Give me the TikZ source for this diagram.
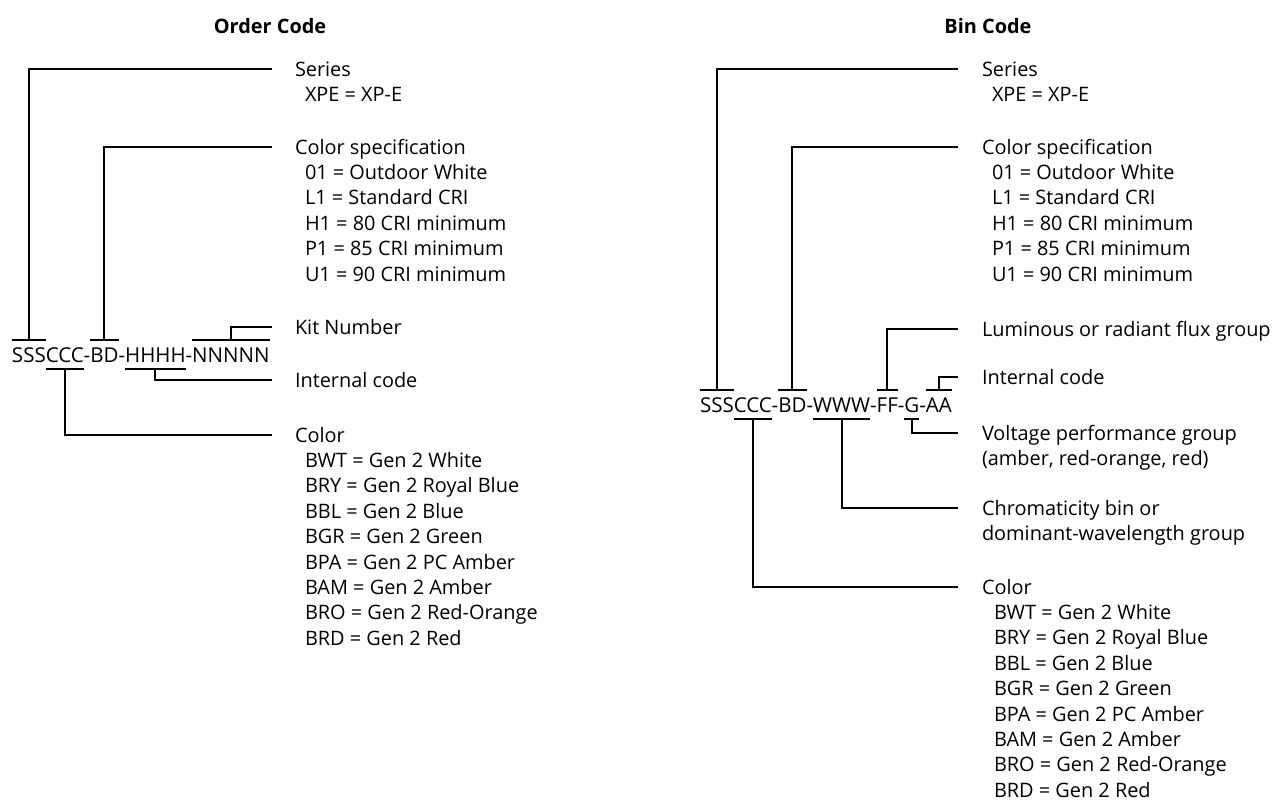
\documentclass[tikz,border=0pt]{standalone}
\usepackage{fontspec}
\setmainfont{Open Sans}
\usetikzlibrary{positioning,calc}

\begin{document}
\begin{tikzpicture}[x=1pt,y=-1pt,
    font=\fontsize{19.9}{25.4}\selectfont,
    seg/.style={inner sep=0pt,outer sep=0pt,font=\fontsize{20.5}{25.4}\selectfont,text height=14.6pt,text depth=0pt},
    lbl/.style={inner sep=0pt,outer sep=0pt,anchor=west,text height=14.2pt,text depth=0pt},
    ttl/.style={font=\fontsize{19.9}{25.4}\selectfont\bfseries},
    ln/.style={line width=1.9pt}]
  \useasboundingbox (0,0) rectangle (1283,803);

  % order code
  \node[ttl] (otitle) at (270,26) {Order Code};
  \coordinate (o0) at (12,355);
  \foreach \t/\n [remember=\n as \p (initially o0)] in {SSS/oS,CCC/oC,-/o1,BD/oB,-/o2,HHHH/oH,-/o3,NNNNN/oN}
    \node[seg,right=0pt of \p] (\n) {\t};

  \node[lbl] (oser) at (295,69) {Series};
  \node[lbl] at ([shift={(10,25.4)}]oser.west) {XPE = XP-E};
  \node[lbl] (ospec) at (295,147) {Color specification};
  \foreach \t [count=\i] in {01 = Outdoor White,L1 = Standard CRI,H1 = 80 CRI minimum,P1 = 85 CRI minimum,U1 = 90 CRI minimum}
    \node[lbl] at ([shift={(10,25.4*\i)}]ospec.west) {\t};
  \node[lbl] (okit) at (295,327) {Kit Number};
  \node[lbl] (oint) at (295,380) {Internal code};
  \node[lbl] (ocol) at (295,435) {Color};
  \foreach \t [count=\i] in {BWT = Gen 2 White,BRY = Gen 2 Royal Blue,BBL = Gen 2 Blue,BGR = Gen 2 Green,BPA = Gen 2 PC Amber,BAM = Gen 2 Amber,BRO = Gen 2 Red-Orange,BRD = Gen 2 Red}
    \node[lbl] at ([shift={(10,25.4*\i)}]ocol.west) {\t};

  \foreach \n in {oS,oB,oN}
    \draw[ln] ([yshift=8pt]\n.north west) -- ([yshift=8pt]\n.north east);
  \foreach \n in {oC,oH}
    \draw[ln] ([yshift=-7pt]\n.south west) -- ([yshift=-7pt]\n.south east);
  \draw[ln] ([yshift=8pt]oS.north) |- ([xshift=-23pt]oser.west);
  \draw[ln] ([yshift=8pt]oB.north) |- ([xshift=-23pt]ospec.west);
  \draw[ln] ([yshift=8pt]oN.north) |- ([xshift=-23pt]okit.west);
  \draw[ln] ([yshift=-7pt]oH.south) |- ([xshift=-23pt]oint.west);
  \draw[ln] ([yshift=-7pt]oC.south) |- ([xshift=-23pt]ocol.west);

  % bin code
  \node[ttl] (btitle) at (988,26) {Bin Code};
  \coordinate (b0) at (700,405);
  \foreach \t/\n [remember=\n as \p (initially b0)] in {SSS/bS,CCC/bC,-/b1,BD/bB,-/b2,WWW/bW,-/b3,FF/bF,-/b4,G/bG,-/b5,AA/bA}
    \node[seg,right=0pt of \p] (\n) {\t};

  \node[lbl] (bser) at (982,69) {Series};
  \node[lbl] at ([shift={(10,25.4)}]bser.west) {XPE = XP-E};
  \node[lbl] (bspec) at (982,147) {Color specification};
  \foreach \t [count=\i] in {01 = Outdoor White,L1 = Standard CRI,H1 = 80 CRI minimum,P1 = 85 CRI minimum,U1 = 90 CRI minimum}
    \node[lbl] at ([shift={(10,25.4*\i)}]bspec.west) {\t};
  \node[lbl] (blum) at (982,329) {Luminous or radiant flux group};
  \node[lbl] (bint) at (982,377) {Internal code};
  \node[lbl] (bvolt) at (982,433) {Voltage performance group};
  \node[lbl] at ([yshift=-25.4pt]bvolt.west) {(amber, red-orange, red)};
  \node[lbl] (bchr) at (982,508) {Chromaticity bin or};
  \node[lbl] at ([yshift=-25.4pt]bchr.west) {dominant-wavelength group};
  \node[lbl] (bcol) at (982,587) {Color};
  \foreach \t [count=\i] in {BWT = Gen 2 White,BRY = Gen 2 Royal Blue,BBL = Gen 2 Blue,BGR = Gen 2 Green,BPA = Gen 2 PC Amber,BAM = Gen 2 Amber,BRO = Gen 2 Red-Orange,BRD = Gen 2 Red}
    \node[lbl] at ([shift={(12,25.4*\i)}]bcol.west) {\t};

  \foreach \n in {bS,bB,bF,bA}
    \draw[ln] ([yshift=8pt]\n.north west) -- ([yshift=8pt]\n.north east);
  \foreach \n in {bC,bW,bG}
    \draw[ln] ([yshift=-7pt]\n.south west) -- ([yshift=-7pt]\n.south east);
  \draw[ln] ([yshift=8pt]bS.north) |- ([xshift=-24pt]bser.west);
  \draw[ln] ([yshift=8pt]bB.north) |- ([xshift=-24pt]bspec.west);
  \draw[ln] ([yshift=8pt]bF.north) |- ([xshift=-24pt]blum.west);
  \draw[ln] ([yshift=8pt]bA.north) |- ([xshift=-24pt]bint.west);
  \draw[ln] ([yshift=-7pt]bG.south) |- ([xshift=-24pt]bvolt.west);
  \draw[ln] ([yshift=-7pt]bW.south) |- ([xshift=-24pt]bchr.west);
  \draw[ln] ([yshift=-7pt]bC.south) |- ([xshift=-24pt]bcol.west);
\end{tikzpicture}
\end{document}
